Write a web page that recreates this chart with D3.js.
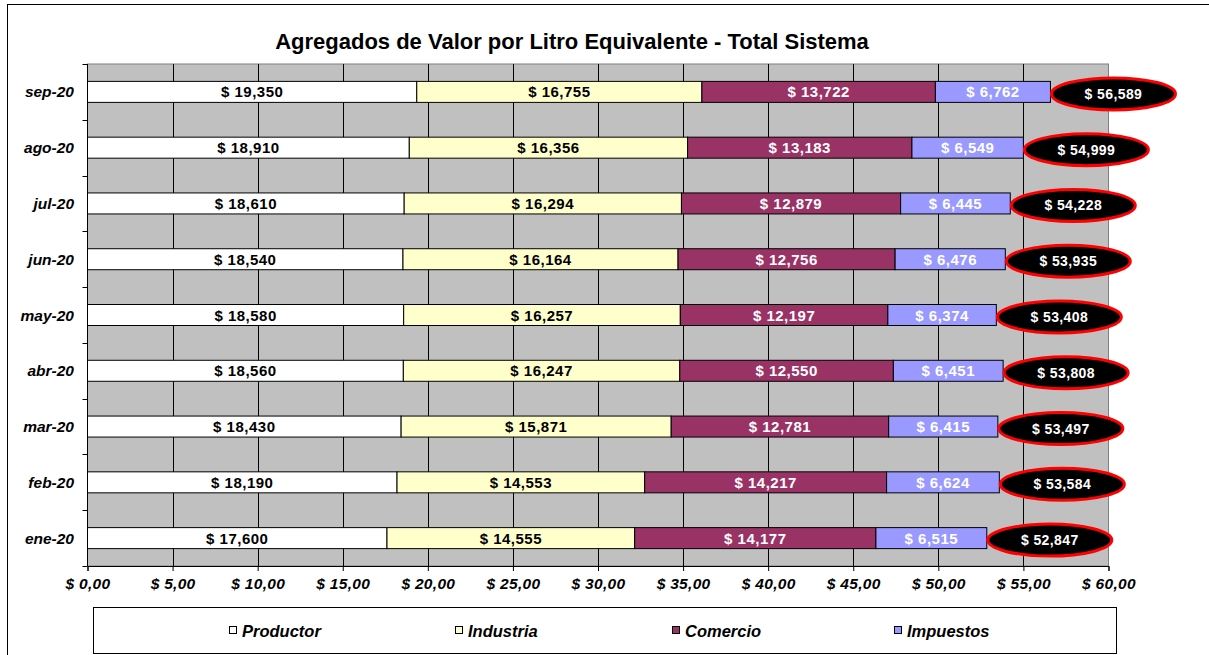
<!DOCTYPE html>
<html>
<head>
<meta charset="utf-8">
<script src="https://cdn.jsdelivr.net/npm/d3@7"></script>
<style>
  body { margin: 0; background: #fff; }
  svg { font-family: Arial, "Liberation Sans", sans-serif; }
</style>
</head>
<body>
<div id="chart"></div>
<script>
const months = ["sep-20", "ago-20", "jul-20", "jun-20", "may-20", "abr-20", "mar-20", "feb-20", "ene-20"];
const productor = [19.350, 18.910, 18.610, 18.540, 18.580, 18.560, 18.430, 18.190, 17.600];
const industria = [16.755, 16.356, 16.294, 16.164, 16.257, 16.247, 15.871, 14.553, 14.555];
const comercio = [13.722, 13.183, 12.879, 12.756, 12.197, 12.550, 12.781, 14.217, 14.177];
const impuestos = [6.762, 6.549, 6.445, 6.476, 6.374, 6.451, 6.415, 6.624, 6.515];
const totals = [56.589, 54.999, 54.228, 53.935, 53.408, 53.808, 53.497, 53.584, 52.847];
const seriesNames = ["Productor", "Industria", "Comercio", "Impuestos"];
const xTicks = [0, 5, 10, 15, 20, 25, 30, 35, 40, 45, 50, 55, 60];

const colors = ["#FFFFFF", "#FFFFCC", "#993366", "#9999FF"];
const textColors = ["#000", "#000", "#fff", "#fff"];

const width = 1209, height = 655;
const plot = { left: 87.5, right: 1108.5, top: 64, bottom: 566 };

const svg = d3.select("#chart").append("svg")
  .attr("width", width).attr("height", height);

// outer chart frame
svg.append("rect")
  .attr("x", 7.5).attr("y", 4.5).attr("width", 1220).attr("height", 700)
  .attr("fill", "#fff").attr("stroke", "#000").attr("stroke-width", 1);

svg.append("text")
  .attr("x", 572).attr("y", 49)
  .attr("text-anchor", "middle")
  .attr("font-size", 22).attr("font-weight", "bold")
  .text("Agregados de Valor por Litro Equivalente - Total Sistema");

const x = d3.scaleLinear().domain([0, 60]).range([plot.left, plot.right]);
const y = d3.scaleBand().domain(months).range([plot.top, plot.bottom]).padding(0);
const barH = 21;

// plot background
svg.append("rect")
  .attr("x", plot.left).attr("y", plot.top)
  .attr("width", plot.right - plot.left).attr("height", plot.bottom - plot.top)
  .attr("fill", "#C0C0C0").attr("stroke", "#808080").attr("stroke-width", 1);

// vertical gridlines
svg.append("g").selectAll("line")
  .data(xTicks.slice(1, -1))
  .join("line")
  .attr("x1", d => Math.round(x(d)) + 0.5).attr("x2", d => Math.round(x(d)) + 0.5)
  .attr("y1", plot.top).attr("y2", plot.bottom)
  .attr("stroke", "#000").attr("stroke-width", 1);

// stacked data
const rows = months.map((m, i) => ({
  month: m,
  vals: [productor[i], industria[i], comercio[i], impuestos[i]],
  total: totals[i]
}));

const bars = svg.append("g");
rows.forEach(r => {
  let acc = 0;
  const cy = y(r.month) + y.bandwidth() / 2;
  r.vals.forEach((v, k) => {
    const x0 = x(acc), x1 = x(acc + v);
    bars.append("rect")
      .attr("x", x0).attr("y", cy - barH / 2)
      .attr("width", x1 - x0).attr("height", barH)
      .attr("fill", colors[k]).attr("stroke", "#000").attr("stroke-width", 1);
    bars.append("text")
      .attr("x", (x0 + x1) / 2).attr("y", cy + 5.5)
      .attr("text-anchor", "middle")
      .attr("font-size", 15).attr("font-weight", "bold")
      .attr("letter-spacing", 0.5)
      .attr("fill", textColors[k])
      .text("$ " + d3.format(",.0f")(v * 1000));
    acc += v;
  });
  const ex = x(acc) + 63;
  bars.append("ellipse")
    .attr("cx", ex).attr("cy", cy + 2)
    .attr("rx", 62).attr("ry", 16)
    .attr("fill", "#000").attr("stroke", "#FF0000").attr("stroke-width", 3);
  bars.append("text")
    .attr("x", ex).attr("y", cy + 7)
    .attr("text-anchor", "middle")
    .attr("font-size", 14).attr("font-weight", "bold")
    .attr("letter-spacing", 0.4)
    .attr("fill", "#fff")
    .text("$ " + d3.format(",.0f")(r.total * 1000));
});

// y axis
const yAxisG = svg.append("g");
yAxisG.append("line")
  .attr("x1", plot.left).attr("x2", plot.left)
  .attr("y1", plot.top).attr("y2", plot.bottom)
  .attr("stroke", "#000");
yAxisG.selectAll("line.tick")
  .data(d3.range(months.length + 1))
  .join("line").attr("class", "tick")
  .attr("x1", plot.left - 5).attr("x2", plot.left)
  .attr("y1", i => Math.round(plot.top + i * y.step()) + 0.5)
  .attr("y2", i => Math.round(plot.top + i * y.step()) + 0.5)
  .attr("stroke", "#000");
yAxisG.selectAll("text")
  .data(months)
  .join("text")
  .attr("x", 74).attr("y", d => y(d) + y.bandwidth() / 2 + 5.5)
  .attr("text-anchor", "end")
  .attr("font-size", 15.5).attr("font-weight", "bold").attr("font-style", "italic")
  .text(d => d);

// x axis
const xAxis = d3.axisBottom(x).tickValues(xTicks).tickSize(5)
  .tickFormat(d => "$ " + d3.format(".2f")(d).replace(".", ","));
const xg = svg.append("g")
  .attr("transform", `translate(0,${plot.bottom})`)
  .call(xAxis);
xg.select(".domain").attr("stroke", "#000");
xg.selectAll(".tick line").attr("stroke", "#000");
xg.selectAll(".tick text")
  .attr("dy", 0).attr("y", 23)
  .attr("fill", "#000")
  .attr("font-family", "Arial, 'Liberation Sans', sans-serif")
  .attr("font-size", 15.5).attr("font-weight", "bold").attr("font-style", "italic")
  .attr("letter-spacing", 0.3);

// legend
const lg = svg.append("g");
lg.append("rect")
  .attr("x", 93.5).attr("y", 607.5).attr("width", 1023).attr("height", 46)
  .attr("fill", "#fff").attr("stroke", "#000").attr("stroke-width", 1);
const legendX = [229, 455, 672, 894];
seriesNames.forEach((name, k) => {
  lg.append("rect")
    .attr("x", legendX[k] + 0.5).attr("y", 626.5)
    .attr("width", 7).attr("height", 7)
    .attr("fill", colors[k]).attr("stroke", "#000");
  lg.append("text")
    .attr("x", legendX[k] + 13).attr("y", 636.5)
    .attr("font-size", 16.5).attr("font-weight", "bold").attr("font-style", "italic")
    .text(name);
});
</script>
</body>
</html>
